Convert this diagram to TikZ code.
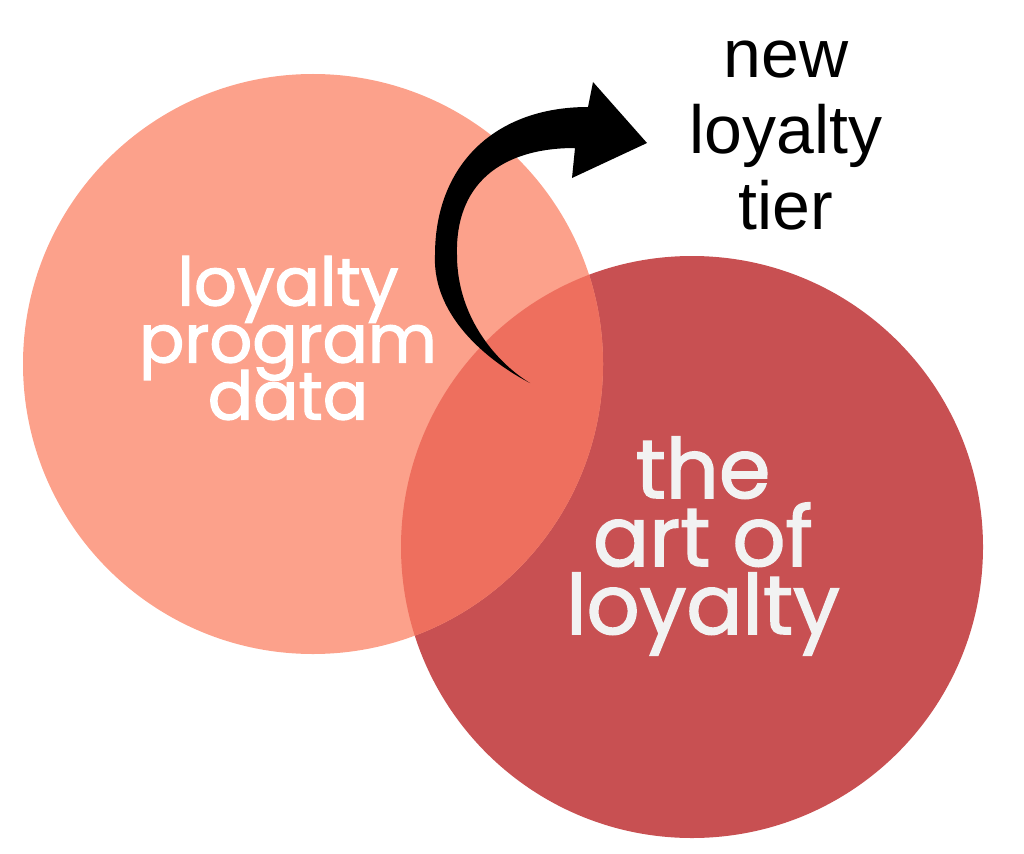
\documentclass[tikz,border=0pt]{standalone}
\usepackage{fontspec}
\usepackage{tikz}
\newfontfamily\vennfont[FakeBold=1.8]{Poppins}
\newfontfamily\tierfont{Liberation Sans}
\definecolor{datapink}{HTML}{FCA18B}
\definecolor{artred}{HTML}{C85052}
\definecolor{mixred}{HTML}{EE6F5E}
\definecolor{offwhite}{HTML}{F2F2F2}
\setlength{\lineskiplimit}{-100pt}

\begin{document}
\begin{tikzpicture}[x=1pt,y=-1pt,
	venntext/.style={align=center, inner sep=0pt, font=\vennfont\fontsize{67}{57}\selectfont},
	tiertext/.style={align=center, inner sep=0pt, font=\tierfont\fontsize{68}{76}\selectfont}]
	%\draw [help lines] (0,0) grid[step=100] (1024,853);
	\useasboundingbox (0,0) rectangle (1024,853);
	\coordinate (dc) at (313,364);
	\coordinate (ac) at (692,547);
	\fill [artred] (ac) circle (291pt);
	\fill [datapink] (dc) circle (290pt);
	\begin{scope}
		\clip (dc) circle (290pt);
		\fill [mixred] (ac) circle (291pt);
	\end{scope}
	\node [venntext, text=white] (data) at (288,338) {loyalty\\program\\data};
	\node [venntext, text=offwhite, font=\vennfont\fontsize{83}{68}\selectfont] (art) at (703,546) {the\\art of\\loyalty};
	\node [tiertext] (tier) at (786,136) {new\\loyalty\\tier};
	% curved arrow
	\fill (530,383) .. controls (495,365) and (432,320) .. (435,255)
		.. controls (435,165) and (495,107) .. (588,107)
		-- (593,82) -- (647,143) -- (572,178) -- (575,148)
		.. controls (500,148) and (455,185) .. (457,255)
		.. controls (457,320) and (500,365) .. (530,383) -- cycle;
\end{tikzpicture}
\end{document}
